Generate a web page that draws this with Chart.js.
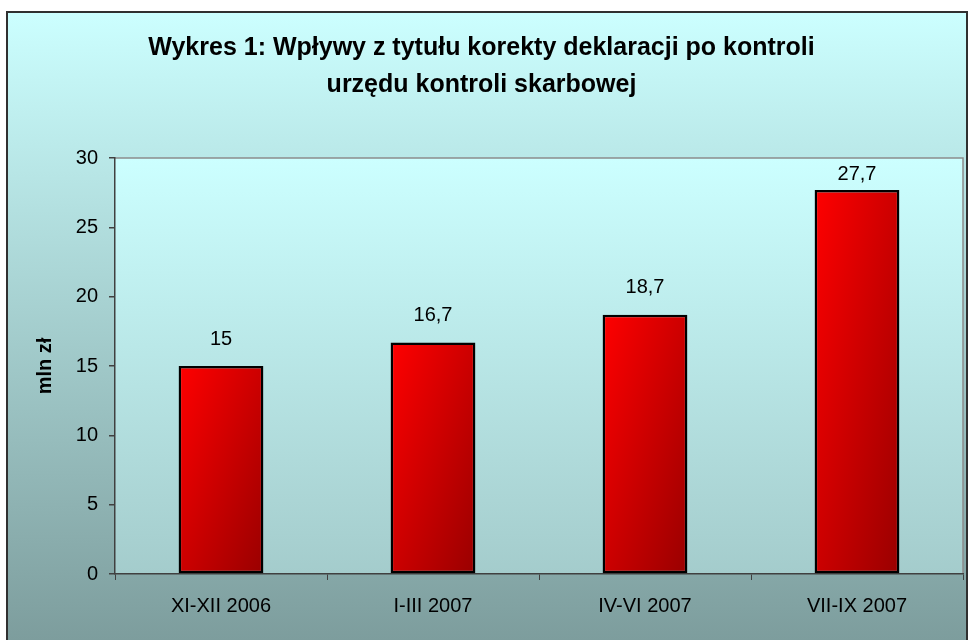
<!DOCTYPE html>
<html>
<head>
<meta charset="utf-8">
<script src="https://cdn.jsdelivr.net/npm/chart.js@4"></script>
<style>
  html, body { margin: 0; padding: 0; background: #fff; }
  #wrap { width: 969px; height: 640px; }
</style>
</head>
<body>
<div id="wrap"><canvas id="wykres" width="969" height="640"></canvas></div>
<script>
// dane
const kategorie = ["XI-XII 2006", "I-III 2007", "IV-VI 2007", "VII-IX 2007"];
const wplywy = [15, 16.7, 18.7, 27.7];
const tytul = ["Wykres 1: Wpływy z tytułu korekty deklaracji po kontroli", "urzędu kontroli skarbowej"];
const osY = "mln zł";

const FONT = "'Liberation Sans', Arial, sans-serif";
const BAR_PCT = 0.4;

// tło całego wykresu i obszaru kreślenia
const tloPlugin = {
    id: "tlo",
    beforeDraw(chart) {
        const { ctx, width, height, chartArea: a } = chart;
        ctx.save();
        ctx.fillStyle = "#ffffff";
        ctx.fillRect(0, 0, width, height);

        const g = ctx.createLinearGradient(0, 11, 0, height);
        g.addColorStop(0, "#ccffff");
        g.addColorStop(1, "#7d9d9d");
        ctx.fillStyle = g;
        ctx.fillRect(6, 11, width - 8, height - 11);

        const g2 = ctx.createLinearGradient(0, a.top, 0, a.bottom);
        g2.addColorStop(0, "#ccffff");
        g2.addColorStop(1, "#a4cccc");
        ctx.fillStyle = g2;
        ctx.fillRect(a.left, a.top, a.right - a.left, a.bottom - a.top);

        // ramka obszaru kreślenia (góra i prawa)
        ctx.strokeStyle = "#8c8c8c";
        ctx.lineWidth = 1.5;
        ctx.beginPath();
        ctx.moveTo(a.left, a.top);
        ctx.lineTo(a.right, a.top);
        ctx.lineTo(a.right, a.bottom);
        ctx.stroke();

        // ramka zewnętrzna
        ctx.strokeStyle = "#303030";
        ctx.lineWidth = 2;
        ctx.strokeRect(7, 12, width - 9, height);
        ctx.restore();
    }
};

// etykiety wartości nad słupkami
const etykietyPlugin = {
    id: "etykiety",
    afterDatasetsDraw(chart) {
        const { ctx, chartArea: a } = chart;
        const meta = chart.getDatasetMeta(0);
        ctx.save();
        ctx.font = "20px " + FONT;
        ctx.fillStyle = "#000";
        ctx.textAlign = "center";
        ctx.textBaseline = "middle";
        meta.data.forEach((bar, i) => {
            const txt = String(wplywy[i]).replace(".", ",");
            const y = Math.max(bar.y - 27, a.top + 16);
            ctx.fillText(txt, bar.x, y);
        });
        ctx.restore();
    }
};

function gradientSlupka(context) {
    const chart = context.chart;
    const a = chart.chartArea;
    if (!a || context.type !== "data") return "#dd0000";
    const xs = chart.scales.x, ys = chart.scales.y;
    const cx = xs.getPixelForValue(context.dataIndex);
    const w = (a.right - a.left) / kategorie.length * BAR_PCT;
    const top = ys.getPixelForValue(context.raw);
    const bottom = ys.getPixelForValue(0);
    const h = bottom - top;
    const cy = (top + bottom) / 2;
    const k = w * h / (w * w + h * h);
    const g = chart.ctx.createLinearGradient(cx - h * k, cy - w * k, cx + h * k, cy + w * k);
    g.addColorStop(0, "#ff0000");
    g.addColorStop(1, "#990000");
    return g;
}

new Chart(document.getElementById("wykres"), {
    type: "bar",
    data: {
        labels: kategorie,
        datasets: [{
            data: wplywy,
            backgroundColor: gradientSlupka,
            borderColor: "#000000",
            borderWidth: 2.5,
            borderSkipped: false,
            barPercentage: BAR_PCT,
            categoryPercentage: 1
        }]
    },
    options: {
        responsive: false,
        animation: false,
        layout: { padding: { left: 0, right: 6, top: 0, bottom: 0 } },
        plugins: {
            legend: { display: false },
            tooltip: { enabled: false },
            title: {
                display: true,
                text: tytul,
                color: "#000",
                font: { family: FONT, size: 25, weight: "bold", lineHeight: 1.48 },
                padding: { top: 29.5, bottom: 54.5 }
            }
        },
        scales: {
            x: {
                afterFit: s => { s.height = 66; },
                grid: { drawOnChartArea: false, drawTicks: true, tickLength: 6, color: "#404040", lineWidth: 1, offset: true },
                border: { display: true, color: "#404040", width: 1.5 },
                ticks: { color: "#000", padding: 14, font: { family: FONT, size: 20 } }
            },
            y: {
                min: 0,
                max: 30,
                afterFit: s => { s.width = 115; },
                grid: { drawOnChartArea: false, drawTicks: true, tickLength: 6, color: "#404040", lineWidth: 1.5 },
                border: { display: true, color: "#404040", width: 1.5 },
                ticks: { stepSize: 5, color: "#000", padding: 11, font: { family: FONT, size: 20 } },
                title: {
                    display: true,
                    text: osY,
                    color: "#000",
                    font: { family: FONT, size: 20, weight: "bold" },
                    padding: { top: 33, bottom: 0 }
                }
            }
        }
    },
    plugins: [tloPlugin, etykietyPlugin]
});
</script>
</body>
</html>
